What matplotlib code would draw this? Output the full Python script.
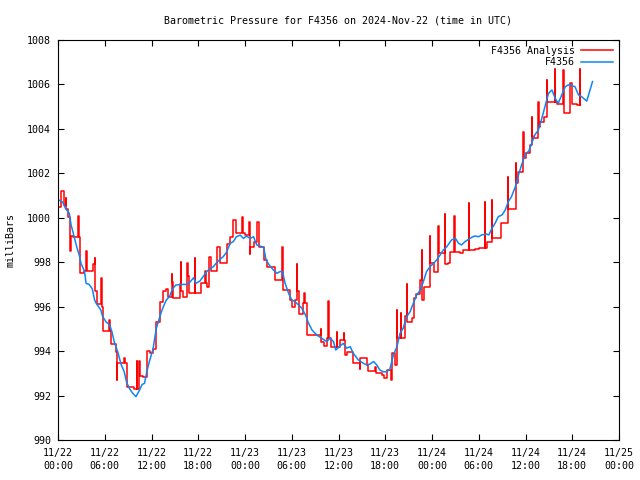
import numpy as np
import pandas as pd
import matplotlib
matplotlib.use('Agg')
import matplotlib.pyplot as plt
import matplotlib.dates as mdates

plt.rcParams['font.family'] = 'DejaVu Sans Mono'
plt.rcParams['font.size'] = 7.2

start = pd.Timestamp('2024-11-22 00:00')

# F4356 observations: hours after 11/22 00:00 UTC, pressure (mb)
obs_hours = [0.1, 0.6, 1.0, 1.45, 1.67, 2.1, 2.4, 2.74, 2.95, 3.4, 3.6, 4.0, 4.4, 4.7, 4.9,
             5.2, 5.5, 5.73, 6.2, 6.6, 6.9, 7.23, 7.66, 8.1, 8.5, 8.8, 9.2, 9.6, 10.0, 10.4,
             10.8, 11.1, 11.4, 11.7, 12.2, 12.6, 13.0, 13.4, 13.9, 14.3, 14.7, 15.1, 15.8, 16.4,
             16.8, 17.4, 17.7, 18.2, 18.45, 19.1, 19.5, 19.95, 20.4, 20.8, 21.2, 21.6, 22.1, 22.5,
             22.9, 23.4, 23.8, 24.2, 24.65, 25.1, 25.5, 25.9, 26.4, 26.7, 27.1, 27.65, 28.1, 28.5,
             28.8, 29.15, 29.6, 30.0, 30.4, 30.85, 31.3, 31.8, 32.1, 32.6, 33.0, 33.4, 33.85, 34.5,
             34.9, 35.35, 35.65, 36.1, 36.6, 37.05, 37.5, 37.9, 38.55, 39.2, 39.6, 40.05, 40.5, 40.9,
             41.3, 41.75, 42.2, 42.6, 43.05, 43.5, 43.9, 44.3, 44.75, 45.2, 45.6, 46.05, 46.5, 46.9,
             47.3, 47.75, 48.2, 48.6, 49.05, 49.45, 49.9, 50.5, 51.0, 51.4, 51.8, 52.25, 52.7, 53.1,
             53.5, 54.0, 54.4, 55.0, 55.3, 55.7, 56.1, 56.5, 57.0, 57.4, 57.8, 58.2, 58.7, 59.1,
             59.5, 60.0, 60.4, 60.8, 61.2, 61.65, 62.1, 62.5, 62.95, 63.4, 63.8, 64.2, 64.65, 65.1,
             65.5, 65.9, 66.35, 66.8, 67.2, 67.86, 68.6]
obs_mb = [1000.8, 1000.7, 1000.4, 1000.2, 999.7, 999.1, 998.7, 998.3, 997.95, 997.6, 997.05, 997.0,
          996.8, 996.3, 996.15, 996.0, 995.85, 995.55, 995.3, 995.2, 994.9, 994.4, 993.97, 993.4,
          993.07, 992.6, 992.3, 992.1, 991.95, 992.2, 992.5, 992.55, 993.07, 993.5, 994.1, 995.0,
          995.47, 995.9, 996.3, 996.45, 996.8, 996.97, 997.0, 997.0, 997.05, 997.3, 997.05, 997.15,
          997.27, 997.58, 997.7, 997.8, 998.0, 998.13, 998.25, 998.43, 998.85, 998.93, 999.15, 999.22,
          999.07, 999.18, 999.07, 999.15, 998.78, 998.73, 998.67, 998.1, 997.88, 997.65, 997.5, 997.58,
          997.58, 997.05, 996.6, 996.3, 996.23, 996.08, 995.93, 995.6, 995.3, 994.95, 994.8, 994.68,
          994.58, 994.43, 994.58, 994.43, 994.05, 994.2, 994.35, 994.13, 994.2, 993.9, 993.6, 993.45,
          993.38, 993.42, 993.53, 993.38, 993.15, 993.07, 993.07, 993.2, 993.83, 994.2, 994.8, 995.03,
          995.55, 995.78, 996.15, 996.53, 996.75, 997.13, 997.58, 997.8, 997.95, 998.1, 998.33, 998.55,
          998.7, 999.0, 999.08, 998.85, 998.78, 998.93, 999.03, 999.12, 999.18, 999.15, 999.23, 999.27,
          999.23, 999.53, 999.75, 1000.05, 1000.13, 1000.35, 1000.73, 1000.95, 1001.4, 1001.93, 1002.38,
          1002.9, 1002.98, 1003.35, 1003.73, 1003.95, 1004.48, 1005.0, 1005.6, 1005.75, 1005.38,
          1005.15, 1005.53, 1005.9, 1005.98, 1005.95, 1005.9, 1005.53, 1005.45, 1005.25, 1006.13]

# F4356 analysis (stepped)
ana_hours = [0.1, 0.4, 0.74, 1.0, 1.05, 1.24, 1.6, 1.65, 1.97, 2.6, 2.65, 2.85, 3.4, 3.6, 3.7, 4.5,
             4.7, 4.75, 4.8, 5.0, 5.5, 5.6, 5.73, 6.6, 6.65, 6.75, 7.45, 7.55, 7.6, 8.5, 8.55, 8.8,
             9.75, 10.1, 10.2, 10.35, 10.55, 10.9, 11.4, 11.8, 12.2, 12.6, 13.05, 13.5, 13.85, 14.1,
             14.6, 14.65, 14.8, 15.6, 15.75, 15.8, 16.0, 16.6, 16.7, 16.85, 17.55, 17.6, 17.8, 18.4,
             18.9, 18.95, 19.1, 19.4, 19.7, 20.4, 20.8, 21.7, 22.1, 22.5, 22.8, 23.6, 23.7, 24.0,
             24.55, 24.6, 24.7, 25.2, 25.5, 25.85, 26.4, 26.8, 27.9, 28.8, 28.85, 29.8, 30.0, 30.4,
             30.65, 30.7, 30.9, 31.4, 31.6, 31.65, 31.9, 33.7, 33.8, 34.2, 34.5, 34.7, 34.75, 35.1,
             35.8, 35.85, 36.2, 36.7, 36.75, 36.8, 37.1, 37.9, 38.7, 38.8, 39.6, 39.8, 40.7, 40.85,
             41.6, 41.8, 42.2, 42.7, 42.85, 43.3, 43.45, 43.5, 44.0, 44.05, 44.55, 44.8, 44.85, 45.4,
             45.7, 46.0, 46.45, 46.7, 46.75, 47.0, 47.75, 47.8, 48.2, 48.8, 48.85, 49.65, 49.7, 50.1,
             50.3, 50.85, 50.9, 51.6, 52.0, 52.75, 52.8, 53.5, 54.0, 54.8, 54.85, 55.0, 55.65, 55.7,
             56.9, 57.7, 57.75, 58.75, 58.8, 59.1, 59.7, 59.75, 60.0, 60.6, 60.8, 60.85, 61.0, 61.65,
             61.7, 61.9, 62.4, 62.75, 62.8, 63.8, 63.85, 64.1, 64.85, 64.9, 65.7, 66.0, 66.6, 67.0,
             67.05]
ana_mb = [1000.5, 1001.2, 1000.57, 1000.9, 1000.4, 1000.05, 998.5, 999.2, 999.12, 1000.1, 999.12,
          997.5, 997.6, 998.5, 997.6, 997.9, 998.2, 997.9, 996.7, 996.1, 997.3, 996.0, 994.92, 995.4,
          994.92, 994.3, 993.97, 992.7, 993.45, 993.7, 993.45, 992.4, 992.3, 993.55, 992.3, 993.55,
          992.9, 992.85, 994.0, 993.9, 994.08, 995.3, 996.2, 996.7, 996.8, 996.45, 997.45, 997.1,
          996.4, 997.0, 998.0, 996.7, 996.45, 997.95, 997.4, 996.6, 998.2, 996.6, 996.63, 997.05,
          997.6, 997.05, 996.87, 998.25, 997.6, 998.67, 997.95, 998.82, 999.15, 999.9, 999.3, 1000.05,
          999.3, 999.22, 999.83, 998.35, 998.7, 998.93, 999.8, 998.7, 998.1, 997.77, 997.2, 998.7,
          996.75, 996.3, 996.0, 996.3, 997.9, 996.7, 995.67, 996.15, 996.6, 996.15, 994.73, 995.0,
          994.43, 994.23, 994.58, 996.27, 994.58, 994.2, 994.88, 994.2, 994.5, 994.8, 994.5, 993.83,
          993.98, 993.45, 993.2, 993.68, 993.38, 993.12, 993.3, 993.0, 992.93, 992.78, 993.15, 992.7,
          993.9, 993.38, 995.85, 994.6, 995.7, 994.6, 995.6, 997.0, 995.3, 995.5, 996.37, 996.57,
          997.2, 998.55, 996.3, 996.87, 999.2, 997.95, 997.57, 999.63, 998.4, 1000.17, 997.9, 997.95,
          998.48, 1000.1, 998.48, 998.43, 998.55, 1000.65, 998.55, 998.58, 998.62, 1000.72, 998.62,
          998.93, 1000.8, 999.1, 999.75, 1001.85, 1000.4, 1002.45, 1001.55, 1002.08, 1003.87, 1002.7,
          1002.9, 1003.28, 1004.55, 1003.7, 1003.575, 1005.2, 1004.1, 1004.3, 1004.55, 1006.2, 1005.2,
          1006.7, 1005.2, 1005.1, 1006.65, 1004.7, 1006.05, 1005.1, 1005.07, 1006.7, 1005.07]

obs_time = start + pd.to_timedelta(obs_hours, unit='h')
ana_time = start + pd.to_timedelta(ana_hours, unit='h')

fig = plt.figure(figsize=(6.4, 4.8), dpi=100)
ax = fig.add_axes([58/640, 40/480, 561/640, 400/480])

ax.plot(ana_time, ana_mb, color='#ff0000', lw=1.1, drawstyle='steps-post', label='F4356 Analysis')
ax.plot(obs_time, obs_mb, color='#0f85f5', lw=1.1, label='F4356')

ax.set_xlim(start, start + pd.Timedelta(hours=72))
ax.set_ylim(990, 1008)
ax.set_yticks(np.arange(990, 1009, 2))
ax.xaxis.set_major_locator(mdates.HourLocator(byhour=[0, 6, 12, 18]))
ax.xaxis.set_major_formatter(mdates.DateFormatter('%m/%d\n%H:%M'))
for lbl in ax.get_xticklabels():
    lbl.set_linespacing(1.35)

ax.tick_params(direction='in', length=4, width=0.8, top=True, right=True, colors='black')
ax.tick_params(axis='x', pad=6)
ax.tick_params(axis='y', pad=5)
for s in ax.spines.values():
    s.set_linewidth(0.8)

ax.set_title('Barometric Pressure for F4356 on 2024-Nov-22 (time in UTC)', pad=12, fontsize=7.2)
ax.set_ylabel('milliBars', labelpad=8)

ax.legend(loc='upper right', markerfirst=False, frameon=False, handlelength=3.2,
          borderaxespad=0.2, labelspacing=0.15, handletextpad=0.6)

fig.savefig('out.png', dpi=100)
